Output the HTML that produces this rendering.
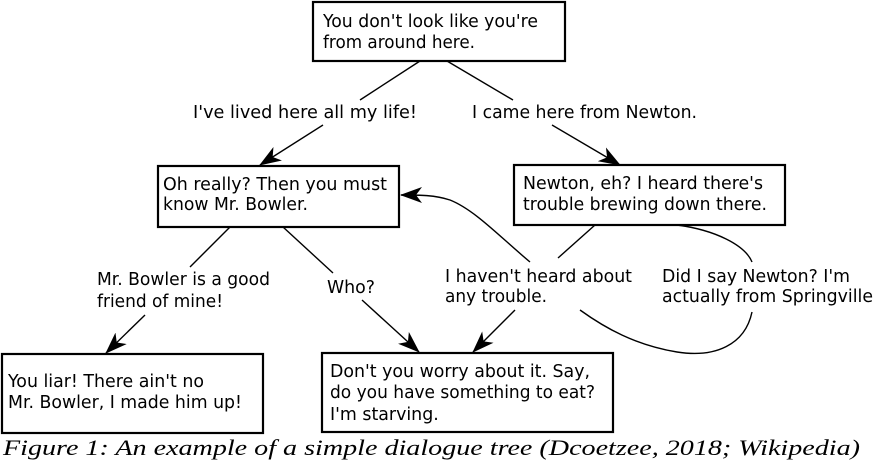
<!DOCTYPE html>
<html><head><meta charset="utf-8"><style>
html,body{margin:0;padding:0;background:#fff;width:874px;height:466px;overflow:hidden}
</style></head><body>
<svg width="874" height="466" viewBox="0 0 874 466" xmlns="http://www.w3.org/2000/svg">
<defs>
<marker id="a" viewBox="0 0 22 16" refX="21" refY="8" markerWidth="22" markerHeight="16" markerUnits="userSpaceOnUse" orient="auto">
<path d="M0,0 L22,8 L0,16 L6,8 Z" fill="#000"/>
</marker>
</defs>
<g fill="none" stroke="#000" stroke-width="2.2">
<rect x="313" y="2" width="252" height="59"/>
<rect x="158" y="166" width="241" height="61"/>
<rect x="514" y="165" width="271" height="60"/>
<rect x="2" y="354" width="261" height="79"/>
<rect x="322" y="353" width="291" height="79"/>
</g>
<g fill="none" stroke="#000" stroke-width="1.4">
<line x1="420" y1="61" x2="360" y2="100"/>
<line x1="323" y1="125" x2="260" y2="165" marker-end="url(#a)"/>
<line x1="447" y1="61" x2="513" y2="100"/>
<line x1="552" y1="125" x2="620" y2="165" marker-end="url(#a)"/>
<line x1="230" y1="227" x2="190" y2="267"/>
<line x1="145" y1="315" x2="106" y2="353" marker-end="url(#a)"/>
<line x1="283" y1="227" x2="333" y2="273"/>
<line x1="362" y1="300" x2="419" y2="352" marker-end="url(#a)"/>
<line x1="595" y1="225" x2="558" y2="258"/>
<line x1="515" y1="310" x2="473" y2="352" marker-end="url(#a)"/>
<path d="M530,262 C500,237 475,210 450,200 C435,195 420,195 401,195" marker-end="url(#a)"/>
<path d="M677,225 C715,230 745,245 752,262"/>
<path d="M752,312 C745,345 715,358 677,352 C635,345 605,328 580,310"/>
</g>
<g font-family="'DejaVu Sans', 'Liberation Sans', sans-serif" font-size="17.4" fill="#000">
<text x="323" y="27" textLength="215" lengthAdjust="spacingAndGlyphs">You don't look like you're</text>
<text x="323" y="48" textLength="152" lengthAdjust="spacingAndGlyphs">from around here.</text>
<text x="163" y="190" textLength="224" lengthAdjust="spacingAndGlyphs">Oh really? Then you must</text>
<text x="163" y="210" textLength="145" lengthAdjust="spacingAndGlyphs">know Mr. Bowler.</text>
<text x="523" y="189" textLength="240" lengthAdjust="spacingAndGlyphs">Newton, eh? I heard there's</text>
<text x="523" y="210" textLength="244" lengthAdjust="spacingAndGlyphs">trouble brewing down there.</text>
<text x="8" y="387" textLength="196" lengthAdjust="spacingAndGlyphs">You liar! There ain't no</text>
<text x="8" y="408" textLength="234" lengthAdjust="spacingAndGlyphs">Mr. Bowler, I made him up!</text>
<text x="330" y="377" textLength="260" lengthAdjust="spacingAndGlyphs">Don't you worry about it. Say,</text>
<text x="330" y="398" textLength="265" lengthAdjust="spacingAndGlyphs">do you have something to eat?</text>
<text x="330" y="420">I'm starving.</text>
<text x="193" y="118" textLength="224" lengthAdjust="spacingAndGlyphs">I've lived here all my life!</text>
<text x="472" y="118" textLength="225" lengthAdjust="spacingAndGlyphs">I came here from Newton.</text>
<text x="97" y="285" textLength="173" lengthAdjust="spacingAndGlyphs">Mr. Bowler is a good</text>
<text x="97" y="307" textLength="126" lengthAdjust="spacingAndGlyphs">friend of mine!</text>
<text x="327" y="293" textLength="48" lengthAdjust="spacingAndGlyphs">Who?</text>
<text x="445" y="282" textLength="187" lengthAdjust="spacingAndGlyphs">I haven't heard about</text>
<text x="445" y="302" textLength="102" lengthAdjust="spacingAndGlyphs">any trouble.</text>
<text x="662" y="282" textLength="188" lengthAdjust="spacingAndGlyphs">Did I say Newton? I'm</text>
<text x="662" y="302" textLength="211" lengthAdjust="spacingAndGlyphs">actually from Springville</text>
</g>
<text x="3" y="455" font-family="'Liberation Serif', serif" font-style="italic" font-size="22" textLength="857" lengthAdjust="spacingAndGlyphs">Figure 1: An example of a simple dialogue tree (Dcoetzee, 2018; Wikipedia)</text>
</svg>
</body></html>
